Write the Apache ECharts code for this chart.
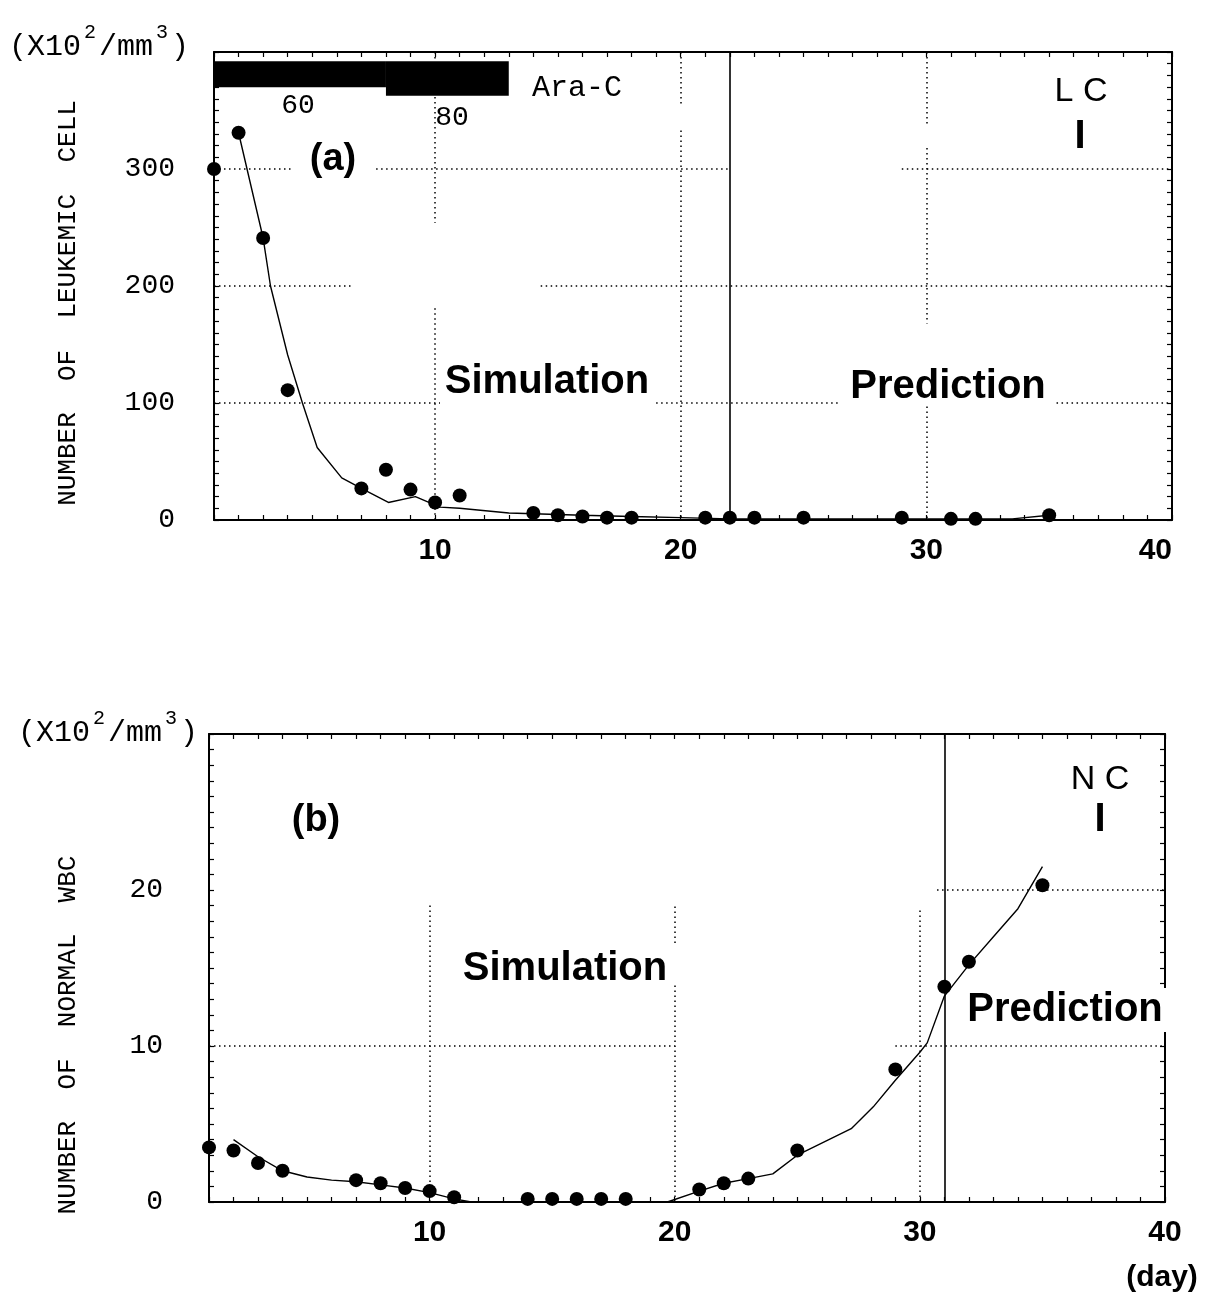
<!DOCTYPE html>
<html>
<head>
<meta charset="utf-8">
<script src="https://cdn.jsdelivr.net/npm/echarts@6/dist/echarts.min.js"></script>
<style>
  html, body { margin: 0; padding: 0; background: #fff; }
  #chart { width: 1209px; height: 1295px; }
</style>
</head>
<body>
<div id="chart"></div>
<script>
// (a) leukemic cells, x10^2/mm^3
const lcDays = [1, 2, 3, 4, 7, 8, 9, 10, 11, 14, 15, 16, 17, 18, 21, 22, 23, 25, 29, 31, 32, 35]
const lcObs = [300, 331, 241, 111, 27, 43, 26, 15, 21, 6, 4, 3, 2, 2, 2, 2, 2, 2, 2, 1, 1, 4]
const lcSimDays = [2, 3, 3.3, 4, 4.6, 5.2, 6.2, 7, 8.1, 9.2, 10.2, 11, 13, 16, 18, 20, 22, 30, 33.5, 35]
const lcSim = [331, 241, 200, 141, 100, 62, 36, 27, 15, 20, 11, 10, 6, 4, 3, 2, 1, 1, 1, 4]

// (b) normal WBC, x10^2/mm^3
const ncDays = [1, 2, 3, 4, 7, 8, 9, 10, 11, 14, 15, 16, 17, 18, 21, 22, 23, 25, 29, 31, 32, 35]
const ncObs = [3.5, 3.3, 2.5, 2.0, 1.4, 1.2, 0.9, 0.7, 0.3, 0.2, 0.2, 0.2, 0.2, 0.2, 0.8, 1.2, 1.5, 3.3, 8.5, 13.8, 15.4, 20.3]
const ncSimDays = [2, 3, 4, 5, 6, 7, 8, 9, 10, 11, 11.7, 19.7, 21, 22, 23, 24, 25, 27.2, 28.1, 29, 30, 30.3, 31, 32, 33, 34, 35]
const ncSim = [4.0, 2.9, 2.0, 1.6, 1.4, 1.3, 1.1, 0.9, 0.6, 0.2, 0, 0, 0.7, 1.2, 1.5, 1.8, 3.0, 4.7, 6.1, 7.8, 9.6, 10.2, 13.2, 15.2, 17.0, 18.8, 21.5]

// Ara-C dosing periods
const araStart = [1, 8]
const araEnd = [8, 13]
const araDose = [60, 80]

const simEndA = 22
const simEndB = 31

const pairs = (xs, ys) => xs.map((x, i) => [x, ys[i]])

const mono = 'Liberation Mono'
const sans = 'Liberation Sans'

let dotted = { color: '#000', width: 1.5, type: [1.5, 3.5] }
let seg = (x1, y1, x2, y2) => [{ coord: [x1, y1] }, { coord: [x2, y2] }]

function xAxisPair(grid, alignMax){
  let base = {
    gridIndex: grid, type: 'value', min: 1, max: 40, interval: 1,
    axisLine: { onZero: false, lineStyle: { color: '#000', width: 2 } },
    axisTick: { inside: true, length: 5, lineStyle: { color: '#000', width: 1.2 } },
    splitLine: { show: false }
  }
  return [
    Object.assign({}, base, {
      position: 'bottom',
      axisLabel: {
        margin: 16, color: '#000', fontFamily: sans, fontWeight: 'bold', fontSize: 30,
        alignMaxLabel: alignMax ? 'right' : null,
        formatter: v => v % 10 === 0 ? String(v) : ''
      }
    }),
    Object.assign({}, base, { position: 'top', axisLabel: { show: false } })
  ]
}

function yAxisPair(grid, max, step, margin){
  let base = {
    gridIndex: grid, type: 'value', min: 0, max: max, interval: step / 10,
    axisLine: { onZero: false, lineStyle: { color: '#000', width: 2 } },
    axisTick: { inside: true, length: 5, lineStyle: { color: '#000', width: 1.2 } },
    splitLine: { show: false }
  }
  return [
    Object.assign({}, base, {
      position: 'left',
      axisLabel: {
        margin: margin, color: '#000', fontFamily: mono, fontSize: 28,
        formatter: v => (v % step === 0 && v < max) ? String(v) : ''
      }
    }),
    Object.assign({}, base, { position: 'right', axisLabel: { show: false } })
  ]
}

function txt(text, x, y, font, align){
  return {
    type: 'text', z: 50,
    style: { text: text, x: x, y: y, font: font, fill: '#000', align: align || 'center', verticalAlign: 'middle' }
  }
}

function vtxt(text, x, y, font){
  return {
    type: 'text', z: 50, x: x, y: y, rotation: Math.PI / 2,
    style: { text: text, x: 0, y: 0, font: font, fill: '#000', align: 'center', verticalAlign: 'middle' }
  }
}

// (X10²/mm³) built from mono text with raised digits in the gaps
function unitText(x, y){
  return [
    txt('(X10 /mm )', x, y, '30px ' + mono, 'left'),
    txt('2', x + 81, y - 14, '20px ' + mono),
    txt('3', x + 153, y - 14, '20px ' + mono)
  ]
}

let option = {
  animation: false,
  backgroundColor: '#fff',
  grid: [
    { left: 214, top: 52, width: 958, height: 468 },
    { left: 209, top: 734, width: 956, height: 468 }
  ],
  xAxis: [...xAxisPair(0, true), ...xAxisPair(1, false)],
  yAxis: [...yAxisPair(0, 400, 100, 39), ...yAxisPair(1, 30, 10, 46)],
  series: [
    {
      type: 'scatter', xAxisIndex: 0, yAxisIndex: 0,
      data: pairs(lcDays, lcObs),
      symbolSize: 14, itemStyle: { color: '#000', opacity: 1 }, z: 5,
      markLine: {
        silent: true, symbol: 'none', label: { show: false }, lineStyle: dotted,
        data: [
          seg(1, 300, 4.2, 300), seg(7.6, 300, 22, 300), seg(29, 300, 40, 300),
          seg(1, 200, 6.7, 200), seg(14.3, 200, 40, 200),
          seg(1, 100, 10.2, 100), seg(19, 100, 26.5, 100), seg(35.3, 100, 40, 100),
          seg(10, 400, 10, 254), seg(10, 181, 10, 0),
          seg(20, 400, 20, 353), seg(20, 333, 20, 0),
          seg(30, 400, 30, 338), seg(30, 318, 30, 168), seg(30, 97, 30, 0)
        ]
      }
    },
    {
      type: 'line', xAxisIndex: 0, yAxisIndex: 0,
      data: pairs(lcSimDays, lcSim),
      showSymbol: false, symbol: 'none',
      lineStyle: { color: '#000', width: 1.4 }, z: 4,
      markLine: {
        silent: true, symbol: 'none', label: { show: false },
        lineStyle: { color: '#000', width: 1.6, type: 'solid' },
        data: [{ xAxis: simEndA }]
      }
    },
    {
      type: 'custom', xAxisIndex: 0, yAxisIndex: 0,
      data: araStart.map((s, i) => [s, araEnd[i], araDose[i]]),
      encode: { x: [0, 1], y: 2 },
      renderItem: function(params, api){
        let p0 = api.coord([api.value(0), 392])
        let p1 = api.coord([api.value(1), 392])
        return {
          type: 'rect',
          shape: { x: p0[0], y: p0[1], width: p1[0] - p0[0], height: api.value(2) * 0.43 },
          style: { fill: '#000' }
        }
      }
    },
    {
      type: 'scatter', xAxisIndex: 2, yAxisIndex: 2,
      data: pairs(ncDays, ncObs),
      symbolSize: 14, itemStyle: { color: '#000', opacity: 1 }, z: 5,
      markLine: {
        silent: true, symbol: 'none', label: { show: false }, lineStyle: dotted,
        data: [
          seg(1, 10, 20, 10), seg(29, 10, 40, 10),
          seg(30.7, 20, 40, 20),
          seg(10, 0, 10, 19),
          seg(20, 0, 20, 13.9), seg(20, 16.6, 20, 19),
          seg(30, 0, 30, 18.7)
        ]
      }
    },
    {
      type: 'line', xAxisIndex: 2, yAxisIndex: 2,
      data: pairs(ncSimDays, ncSim),
      showSymbol: false, symbol: 'none',
      lineStyle: { color: '#000', width: 1.4 }, z: 4,
      markLine: {
        silent: true, symbol: 'none', label: { show: false },
        lineStyle: { color: '#000', width: 1.6, type: 'solid' },
        data: [{ xAxis: simEndB }]
      }
    }
  ],
  graphic: [
    ...unitText(9, 47),
    ...unitText(18, 733),
    vtxt('NUMBER  OF  LEUKEMIC  CELL', 68, 303, '26px ' + mono),
    vtxt('NUMBER  OF  NORMAL  WBC', 68, 1035, '26px ' + mono),
    txt('60', 298, 106, '28px ' + mono),
    txt('80', 452, 118, '28px ' + mono),
    txt('Ara-C', 577, 88, '30px ' + mono),
    txt('(a)', 333, 160, 'bold 38px ' + sans),
    txt('(b)', 316, 821, 'bold 38px ' + sans),
    txt('Simulation', 547, 382, 'bold 40px ' + sans),
    txt('Prediction', 948, 387, 'bold 40px ' + sans),
    txt('Simulation', 565, 969, 'bold 40px ' + sans),
    {
      type: 'text', z: 60,
      style: {
        text: 'Prediction', x: 1065, y: 1010, font: 'bold 40px ' + sans, fill: '#000',
        align: 'center', verticalAlign: 'middle', backgroundColor: '#fff', padding: [2, 4]
      }
    },
    txt('L C', 1081, 92, '34px ' + sans),
    txt('I', 1080, 137, 'bold 40px ' + sans),
    txt('N C', 1100, 780, '34px ' + sans),
    txt('I', 1100, 820, 'bold 40px ' + sans),
    txt('(day)', 1162, 1278, 'bold 30px ' + sans)
  ]
}

let chart = echarts.init(document.getElementById('chart'))
chart.setOption(option)
</script>
</body>
</html>
